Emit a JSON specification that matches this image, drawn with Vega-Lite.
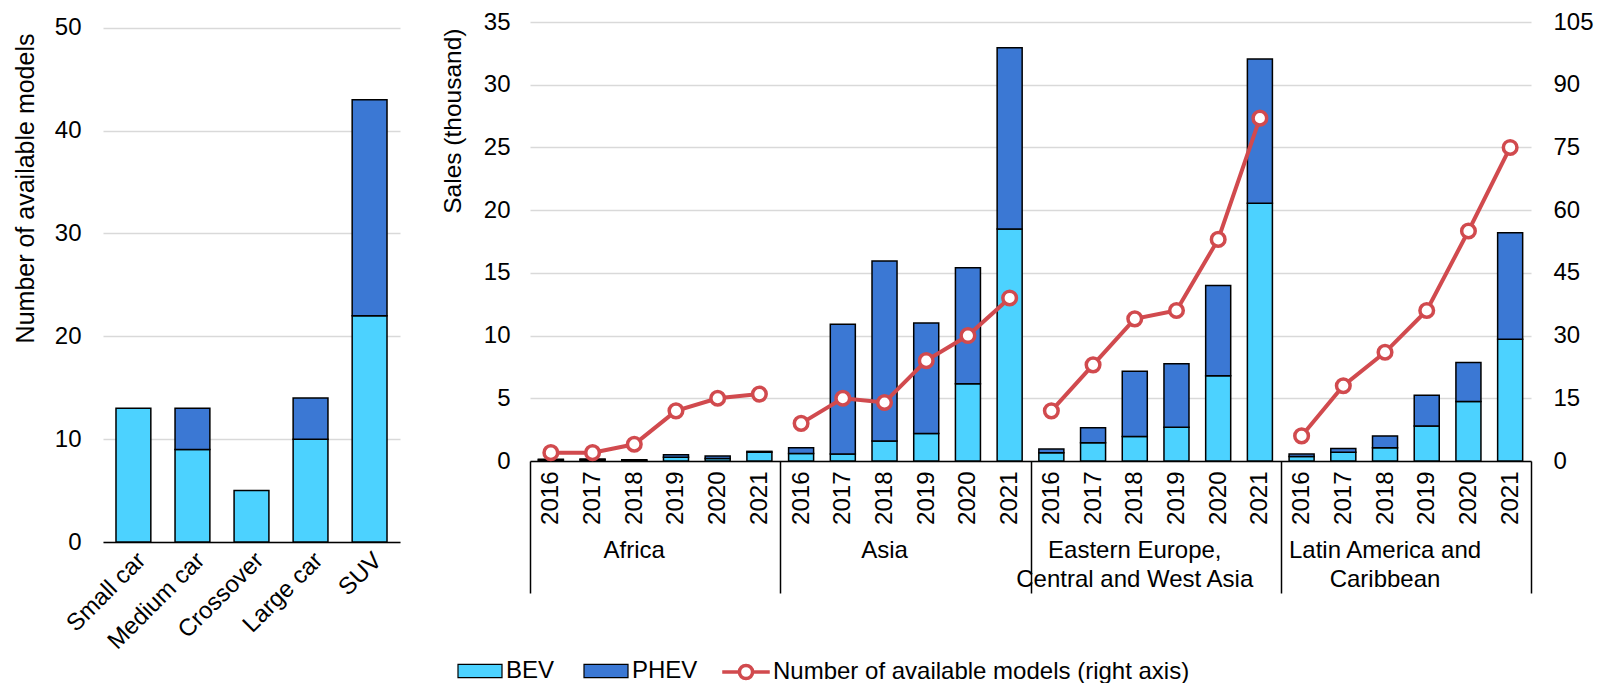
{
  "$schema": "https://vega.github.io/schema/vega-lite/v6.json",
  "background": "white",
  "padding": {"left": 13, "top": 10, "right": 0, "bottom": 0},
  "spacing": 40,
  "resolve": {"legend": {"color": "independent"}},
  "datasets": {
    "left": [
      {"category": "Small car", "type": "BEV", "value": 13},
      {"category": "Medium car", "type": "BEV", "value": 9},
      {"category": "Medium car", "type": "PHEV", "value": 4},
      {"category": "Crossover", "type": "BEV", "value": 5},
      {"category": "Large car", "type": "BEV", "value": 10},
      {"category": "Large car", "type": "PHEV", "value": 4},
      {"category": "SUV", "type": "BEV", "value": 22},
      {"category": "SUV", "type": "PHEV", "value": 21}
    ],
    "sales": [
      {"key": "Africa|2016", "region": "Africa", "year": "2016", "type": "BEV", "value": 0.08},
      {"key": "Africa|2016", "region": "Africa", "year": "2016", "type": "PHEV", "value": 0.05},
      {"key": "Africa|2017", "region": "Africa", "year": "2017", "type": "BEV", "value": 0.1},
      {"key": "Africa|2017", "region": "Africa", "year": "2017", "type": "PHEV", "value": 0.05},
      {"key": "Africa|2018", "region": "Africa", "year": "2018", "type": "BEV", "value": 0.05},
      {"key": "Africa|2018", "region": "Africa", "year": "2018", "type": "PHEV", "value": 0.05},
      {"key": "Africa|2019", "region": "Africa", "year": "2019", "type": "BEV", "value": 0.3},
      {"key": "Africa|2019", "region": "Africa", "year": "2019", "type": "PHEV", "value": 0.2},
      {"key": "Africa|2020", "region": "Africa", "year": "2020", "type": "BEV", "value": 0.2},
      {"key": "Africa|2020", "region": "Africa", "year": "2020", "type": "PHEV", "value": 0.2},
      {"key": "Africa|2021", "region": "Africa", "year": "2021", "type": "BEV", "value": 0.7},
      {"key": "Africa|2021", "region": "Africa", "year": "2021", "type": "PHEV", "value": 0.07},
      {"key": "Asia|2016", "region": "Asia", "year": "2016", "type": "BEV", "value": 0.6},
      {"key": "Asia|2016", "region": "Asia", "year": "2016", "type": "PHEV", "value": 0.45},
      {"key": "Asia|2017", "region": "Asia", "year": "2017", "type": "BEV", "value": 0.55},
      {"key": "Asia|2017", "region": "Asia", "year": "2017", "type": "PHEV", "value": 10.35},
      {"key": "Asia|2018", "region": "Asia", "year": "2018", "type": "BEV", "value": 1.6},
      {"key": "Asia|2018", "region": "Asia", "year": "2018", "type": "PHEV", "value": 14.35},
      {"key": "Asia|2019", "region": "Asia", "year": "2019", "type": "BEV", "value": 2.2},
      {"key": "Asia|2019", "region": "Asia", "year": "2019", "type": "PHEV", "value": 8.8},
      {"key": "Asia|2020", "region": "Asia", "year": "2020", "type": "BEV", "value": 6.15},
      {"key": "Asia|2020", "region": "Asia", "year": "2020", "type": "PHEV", "value": 9.25},
      {"key": "Asia|2021", "region": "Asia", "year": "2021", "type": "BEV", "value": 18.5},
      {"key": "Asia|2021", "region": "Asia", "year": "2021", "type": "PHEV", "value": 14.45},
      {"key": "Eastern Europe, Central and West Asia|2016", "region": "Eastern Europe, Central and West Asia", "year": "2016", "type": "BEV", "value": 0.65},
      {"key": "Eastern Europe, Central and West Asia|2016", "region": "Eastern Europe, Central and West Asia", "year": "2016", "type": "PHEV", "value": 0.3},
      {"key": "Eastern Europe, Central and West Asia|2017", "region": "Eastern Europe, Central and West Asia", "year": "2017", "type": "BEV", "value": 1.45},
      {"key": "Eastern Europe, Central and West Asia|2017", "region": "Eastern Europe, Central and West Asia", "year": "2017", "type": "PHEV", "value": 1.2},
      {"key": "Eastern Europe, Central and West Asia|2018", "region": "Eastern Europe, Central and West Asia", "year": "2018", "type": "BEV", "value": 1.95},
      {"key": "Eastern Europe, Central and West Asia|2018", "region": "Eastern Europe, Central and West Asia", "year": "2018", "type": "PHEV", "value": 5.2},
      {"key": "Eastern Europe, Central and West Asia|2019", "region": "Eastern Europe, Central and West Asia", "year": "2019", "type": "BEV", "value": 2.7},
      {"key": "Eastern Europe, Central and West Asia|2019", "region": "Eastern Europe, Central and West Asia", "year": "2019", "type": "PHEV", "value": 5.05},
      {"key": "Eastern Europe, Central and West Asia|2020", "region": "Eastern Europe, Central and West Asia", "year": "2020", "type": "BEV", "value": 6.8},
      {"key": "Eastern Europe, Central and West Asia|2020", "region": "Eastern Europe, Central and West Asia", "year": "2020", "type": "PHEV", "value": 7.2},
      {"key": "Eastern Europe, Central and West Asia|2021", "region": "Eastern Europe, Central and West Asia", "year": "2021", "type": "BEV", "value": 20.55},
      {"key": "Eastern Europe, Central and West Asia|2021", "region": "Eastern Europe, Central and West Asia", "year": "2021", "type": "PHEV", "value": 11.5},
      {"key": "Latin America and Caribbean|2016", "region": "Latin America and Caribbean", "year": "2016", "type": "BEV", "value": 0.35},
      {"key": "Latin America and Caribbean|2016", "region": "Latin America and Caribbean", "year": "2016", "type": "PHEV", "value": 0.2},
      {"key": "Latin America and Caribbean|2017", "region": "Latin America and Caribbean", "year": "2017", "type": "BEV", "value": 0.7},
      {"key": "Latin America and Caribbean|2017", "region": "Latin America and Caribbean", "year": "2017", "type": "PHEV", "value": 0.3},
      {"key": "Latin America and Caribbean|2018", "region": "Latin America and Caribbean", "year": "2018", "type": "BEV", "value": 1.05},
      {"key": "Latin America and Caribbean|2018", "region": "Latin America and Caribbean", "year": "2018", "type": "PHEV", "value": 0.95},
      {"key": "Latin America and Caribbean|2019", "region": "Latin America and Caribbean", "year": "2019", "type": "BEV", "value": 2.8},
      {"key": "Latin America and Caribbean|2019", "region": "Latin America and Caribbean", "year": "2019", "type": "PHEV", "value": 2.45},
      {"key": "Latin America and Caribbean|2020", "region": "Latin America and Caribbean", "year": "2020", "type": "BEV", "value": 4.75},
      {"key": "Latin America and Caribbean|2020", "region": "Latin America and Caribbean", "year": "2020", "type": "PHEV", "value": 3.1},
      {"key": "Latin America and Caribbean|2021", "region": "Latin America and Caribbean", "year": "2021", "type": "BEV", "value": 9.7},
      {"key": "Latin America and Caribbean|2021", "region": "Latin America and Caribbean", "year": "2021", "type": "PHEV", "value": 8.5}
    ],
    "models": [
      {"key": "Africa|2016", "region": "Africa", "year": "2016", "models": 2},
      {"key": "Africa|2017", "region": "Africa", "year": "2017", "models": 2},
      {"key": "Africa|2018", "region": "Africa", "year": "2018", "models": 4},
      {"key": "Africa|2019", "region": "Africa", "year": "2019", "models": 12},
      {"key": "Africa|2020", "region": "Africa", "year": "2020", "models": 15},
      {"key": "Africa|2021", "region": "Africa", "year": "2021", "models": 16},
      {"key": "Asia|2016", "region": "Asia", "year": "2016", "models": 9},
      {"key": "Asia|2017", "region": "Asia", "year": "2017", "models": 15},
      {"key": "Asia|2018", "region": "Asia", "year": "2018", "models": 14},
      {"key": "Asia|2019", "region": "Asia", "year": "2019", "models": 24},
      {"key": "Asia|2020", "region": "Asia", "year": "2020", "models": 30},
      {"key": "Asia|2021", "region": "Asia", "year": "2021", "models": 39},
      {"key": "Eastern Europe, Central and West Asia|2016", "region": "Eastern Europe, Central and West Asia", "year": "2016", "models": 12},
      {"key": "Eastern Europe, Central and West Asia|2017", "region": "Eastern Europe, Central and West Asia", "year": "2017", "models": 23},
      {"key": "Eastern Europe, Central and West Asia|2018", "region": "Eastern Europe, Central and West Asia", "year": "2018", "models": 34},
      {"key": "Eastern Europe, Central and West Asia|2019", "region": "Eastern Europe, Central and West Asia", "year": "2019", "models": 36},
      {"key": "Eastern Europe, Central and West Asia|2020", "region": "Eastern Europe, Central and West Asia", "year": "2020", "models": 53},
      {"key": "Eastern Europe, Central and West Asia|2021", "region": "Eastern Europe, Central and West Asia", "year": "2021", "models": 82},
      {"key": "Latin America and Caribbean|2016", "region": "Latin America and Caribbean", "year": "2016", "models": 6},
      {"key": "Latin America and Caribbean|2017", "region": "Latin America and Caribbean", "year": "2017", "models": 18},
      {"key": "Latin America and Caribbean|2018", "region": "Latin America and Caribbean", "year": "2018", "models": 26},
      {"key": "Latin America and Caribbean|2019", "region": "Latin America and Caribbean", "year": "2019", "models": 36},
      {"key": "Latin America and Caribbean|2020", "region": "Latin America and Caribbean", "year": "2020", "models": 55},
      {"key": "Latin America and Caribbean|2021", "region": "Latin America and Caribbean", "year": "2021", "models": 75}
    ]
  },
  "hconcat": [
    {
      "width": 297,
      "height": 520,
      "data": {"name": "left"},
      "mark": {"type": "bar", "stroke": "black", "strokeWidth": 1.5},
      "encoding": {
        "x": {
          "field": "category", "type": "nominal", "sort": ["Small car", "Medium car", "Crossover", "Large car", "SUV"],
          "scale": {"paddingInner": 0.41, "paddingOuter": 0.22},
          "axis": {"title": null, "labelAngle": -45, "labelAlign": "right", "labelBaseline": "top", "ticks": false, "labelPadding": 6, "domain": true, "grid": false, "labelLimit": 300}
        },
        "y": {
          "field": "value", "type": "quantitative", "stack": "zero",
          "scale": {"domain": [0, 50.55], "nice": false},
          "axis": {"title": "Number of available models", "titleFontSize": 25, "titleAnchor": "end", "titleAlign": "right", "titleY": 11, "values": [0, 10, 20, 30, 40, 50], "domain": false, "ticks": false, "labelPadding": 22, "titlePadding": 16, "grid": true}
        },
        "order": {"field": "type", "sort": "ascending"},
        "color": {
          "field": "type", "type": "nominal",
          "scale": {"domain": ["BEV", "PHEV"], "range": ["#4cd2ff", "#3b78d4"]},
          "legend": null
        }
      }
    },
    {
      "width": 1001,
      "height": 439,
      "layer": [
        {
          "data": {"name": "sales"},
          "mark": {"type": "bar", "width": {"band": 0.6}, "stroke": "black", "strokeWidth": 1.5},
          "encoding": {
            "x": {
              "field": "key", "type": "nominal",
              "scale": {"paddingInner": 0, "paddingOuter": 0, "domain": ["Africa|2016", "Africa|2017", "Africa|2018", "Africa|2019", "Africa|2020", "Africa|2021", "Asia|2016", "Asia|2017", "Asia|2018", "Asia|2019", "Asia|2020", "Asia|2021", "Eastern Europe, Central and West Asia|2016", "Eastern Europe, Central and West Asia|2017", "Eastern Europe, Central and West Asia|2018", "Eastern Europe, Central and West Asia|2019", "Eastern Europe, Central and West Asia|2020", "Eastern Europe, Central and West Asia|2021", "Latin America and Caribbean|2016", "Latin America and Caribbean|2017", "Latin America and Caribbean|2018", "Latin America and Caribbean|2019", "Latin America and Caribbean|2020", "Latin America and Caribbean|2021"]},
              "axis": {
                "orient": "bottom", "title": null, "grid": false, "labelAngle": -90, "labelAlign": "right", "labelBaseline": "middle",
                "labelExpr": "split(datum.value, '|')[1]", "labelOverlap": false,
                "tickBand": "extent", "tickSize": 132, "tickWidth": 1.5,
                "tickColor": {"condition": {"test": "datum.extra || indexof(datum.value + '', '|2021') >= 0", "value": "black"}, "value": "transparent"},
                "labelPadding": -122, "domain": true
              }
            },
            "y": {
              "field": "value", "type": "quantitative", "stack": "zero",
              "scale": {"domain": [0, 35]},
              "axis": {"title": "Sales (thousand)", "titleFontSize": 24.5, "titleAnchor": "end", "titleAlign": "right", "titleY": 6, "values": [0, 5, 10, 15, 20, 25, 30, 35], "domain": false, "ticks": false, "labelPadding": 20, "titlePadding": 18, "grid": true}
            },
            "order": {"field": "type", "sort": "ascending"},
            "color": {
              "field": "type", "type": "nominal",
              "scale": {"domain": ["BEV", "PHEV"], "range": ["#4cd2ff", "#3b78d4"]},
              "legend": {
                "orient": "none", "legendX": -73, "legendY": 626, "direction": "horizontal", "columns": 2, "title": null,
                "labelFontSize": 24, "labelFont": "Liberation Sans", "labelColor": "black", "labelLimit": 1000, "labelOffset": 3, "columnPadding": 26, "padding": 0,
                "symbolType": "M-1,-0.3L1,-0.3L1,0.3L-1,0.3Z", "symbolSize": 1936, "symbolStrokeColor": "black", "symbolStrokeWidth": 1.2, "symbolOpacity": 1
              }
            }
          }
        },
        {
          "data": {"name": "models"},
          "encoding": {
            "x": {
              "field": "key", "type": "nominal",
              "scale": {"domain": ["Africa|2016", "Africa|2017", "Africa|2018", "Africa|2019", "Africa|2020", "Africa|2021", "Asia|2016", "Asia|2017", "Asia|2018", "Asia|2019", "Asia|2020", "Asia|2021", "Eastern Europe, Central and West Asia|2016", "Eastern Europe, Central and West Asia|2017", "Eastern Europe, Central and West Asia|2018", "Eastern Europe, Central and West Asia|2019", "Eastern Europe, Central and West Asia|2020", "Eastern Europe, Central and West Asia|2021", "Latin America and Caribbean|2016", "Latin America and Caribbean|2017", "Latin America and Caribbean|2018", "Latin America and Caribbean|2019", "Latin America and Caribbean|2020", "Latin America and Caribbean|2021"]},
              "axis": {
                "orient": "bottom", "title": null, "grid": false, "domain": false, "ticks": false, "bandPosition": 1,
                "labelAngle": 0, "labelAlign": "center", "labelBaseline": "top", "labelPadding": 77, "labelLineHeight": 29,
                "labelOverlap": false, "labelFlush": false, "labelBound": false, "labelLimit": 400,
                "labelExpr": "indexof(datum.value, '|2018') < 0 ? '' : indexof(datum.value, 'Eastern') == 0 ? ['Eastern Europe,', 'Central and West Asia'] : indexof(datum.value, 'Latin') == 0 ? ['Latin America and', 'Caribbean'] : split(datum.value, '|')[0]"
              }
            },
            "y": {
              "field": "models", "type": "quantitative",
              "scale": {"domain": [0, 105]},
              "axis": {"orient": "right", "title": null, "values": [0, 15, 30, 45, 60, 75, 90, 105], "domain": false, "ticks": false, "grid": false, "labelPadding": 22}
            }
          },
          "layer": [
            {
              "mark": {"type": "line", "strokeWidth": 4},
              "encoding": {
                "detail": {"field": "region"},
                "stroke": {
                  "datum": "Number of available models (right axis)", "type": "nominal",
                  "scale": {"range": ["#d14a4e"]},
                  "legend": {
                    "orient": "none", "legendX": 619, "legendY": 626, "title": null,
                    "labelFontSize": 24, "labelFont": "Liberation Sans", "labelColor": "black", "labelLimit": 1000, "labelOffset": 3, "padding": 0,
                    "symbolType": "M-1.08,0L-0.3,0A0.3,0.3,0,1,0,0.3,0L1.08,0M0.3,0A0.3,0.3,0,1,0,-0.3,0", "symbolSize": 1936, "symbolStrokeWidth": 3.5, "symbolFillColor": "white", "symbolOpacity": 1
                  }
                }
              }
            },
            {"mark": {"type": "point", "filled": true, "fill": "white", "stroke": "#d14a4e", "strokeWidth": 3.5, "size": 185, "opacity": 1}}
          ]
        }
      ],
      "resolve": {"scale": {"y": "independent"}, "axis": {"x": "independent"}}
    }
  ],
  "config": {
    "font": "Liberation Sans",
    "view": {"stroke": null},
    "axis": {
      "labelFont": "Liberation Sans", "labelFontSize": 24, "labelColor": "black",
      "titleFont": "Liberation Sans", "titleFontSize": 24, "titleFontWeight": "normal", "titleColor": "black",
      "gridColor": "#d9d9d9", "gridWidth": 1.5, "domainColor": "black", "domainWidth": 1.5, "tickColor": "black"
    },
    "legend": {"labelFont": "Liberation Sans"}
  }
}
